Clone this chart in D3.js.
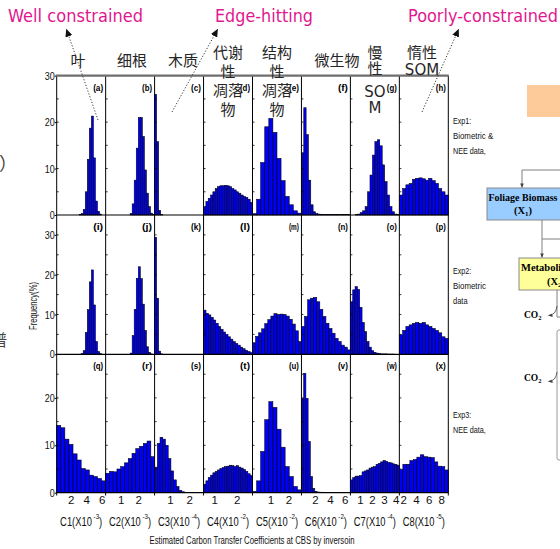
<!DOCTYPE html>
<html>
<head>
<meta charset="utf-8">
<script src="https://cdn.jsdelivr.net/npm/d3@7"></script>
<style>
  body { margin: 0; background: #fff; }
  svg { display: block; }
  text { font-family: "Liberation Sans", Arial, sans-serif; }
</style>
</head>
<body>
<svg id="chart" width="560" height="549"></svg>
<script>
// ---------- data ----------
const paramNames = ["C1", "C2", "C3", "C4", "C5", "C6", "C7", "C8"];
const paramExps = ["-3", "-3", "-4", "-2", "-2", "-2", "-4", "-5"];
const poolNames = [["叶"], ["细根"], ["木质"], ["代谢", "性", "凋落", "物"],
                   ["结构", "性", "凋落", "物"], ["微生物"], ["慢", "性", "SO", "M"], ["惰性", "SOM"]];
const xDomains = [[0.2, 6.5], [0.14, 2.93], [0.2, 2.74], [0.52, 2.71],
                  [0, 2.72], [0.2, 6.75], [0.2, 4.3], [1.4, 9.1]];
const xTickValues = [[2, 4, 6], [1, 2], [1, 2], [1, 2], [1, 2], [2, 4, 6], [1, 2, 3, 4], [2, 4, 6, 8]];
const yMax = [30, 35, 29.2];
const yTickValues = [[0, 10, 20, 30], [0, 10, 20, 30], [0, 10, 20]];
const expLabels = [["Exp1:", "Biometric &", "NEE data,"], ["Exp2:", "Biometric", "data"], ["Exp3:", "NEE data,"]];
const panelLetters = "abcdefghijklmnopqrstuvwx".split("");
const zoneLabels = ["Well constrained", "Edge-hitting", "Poorly-constrained"];
const yTitle = "Frequency(%)";
const xTitle = "Estimated Carbon Transfer Coefficients at CBS by inversoin";

// Exp1: biometric & NEE data
const freqA = [0,0,0,0,0,0,0,0,0,0,0,0.1,0.3,1.2,5.0,12.0,18.7,21.3,12.3,3.0,0.8,0.2,0,0];
const freqB = [0,0,0,0,0,0,0,0,0,0,0,0,0.3,2.4,7.5,14.4,21.0,21.0,16.9,9.7,4.7,1.8,0.4,0.1];
const freqC = [26.0,15.8,1.0,0.1,0,0,0,0,0,0,0,0,0,0,0,0,0,0,0,0,0,0,0,0];
const freqD = [1.8,2.9,3.6,4.3,5.0,5.7,6.1,6.3,6.3,6.4,6.3,6.1,5.7,5.4,5.0,4.7,4.3,4.0,3.8,3.4,2.7];
const freqE = [0.3,3.4,11.3,19.0,20.8,17.8,12.2,7.4,4.0,2.2,0.9,0.4];
const freqF = [13.4,23.1,17.3,7.5,2.2,0.7,0.3,0.2,0.1,0.1,0.1,0.1,0.1,0.1,0.1,0.1,0.1,0.1,0.1,0.1,0.1];
const freqG = [0,0,0.1,0.2,0.5,0.9,1.8,5.0,8.6,12.9,15.8,16.2,14.9,10.8,7.2,4.3,1.8,0.7,0.2,0.1];
const freqH = [4.3,5.7,6.5,6.8,7.7,7.9,8.0,7.8,7.5,7.9,7.4,6.8,5.7,5.0,4.3];
// Exp2: biometric data
const freqI = [0,0,0,0,0,0,0,0,0,0,0,0,0.2,0.9,5.5,11.2,18.2,21.2,12.4,3.2,0.7,0.2,0,0];
const freqJ = [0,0,0,0,0,0,0,0,0,0,0,0,0.3,4.7,11.3,19.1,22.0,19.0,12.6,6.0,1.9,0.5,0.1,0];
const freqK = [29.4,14.1,0.8,0.1,0,0,0,0,0,0,0,0,0,0,0,0,0,0,0,0,0,0,0,0];
const freqL = [11.1,10.3,9.9,9.3,8.6,7.8,7.0,6.3,5.6,5.0,4.4,3.8,3.2,2.7,2.3,1.8,1.4,1.0,0.7,0.4];
const freqM = [2.9,4.5,5.4,6.4,7.7,8.7,9.6,10.2,10.0,10.1,10.0,9.6,8.8,7.6,5.9,3.2];
const freqN = [7.0,9.5,13.7,14.1,14.3,13.2,11.3,9.5,7.8,6.5,5.3,4.0,3.2,2.3,1.8,1.1];
const freqO = [13.2,16.2,17.0,16.3,11.8,8.0,5.7,3.2,1.8,0.9,0.5,0.3,0.2,0.1,0.1,0.1,0.05,0.05,0.05,0,0];
const freqP = [4.9,6.0,7.0,7.4,7.8,8.0,7.8,8.0,7.4,7.0,6.5,6.0,5.4,4.4,4.0];
// Exp3: NEE data
const freqQ = [14.2,13.7,11.3,10.2,8.2,6.9,5.1,4.8,3.7,3.4,3.0,2.5];
const freqR = [4.1,4.5,4.4,5.0,5.5,6.3,7.2,8.3,9.3,9.8,10.4,10.9,7.6];
const freqS = [5.4,10.4,11.7,11.3,10.0,7.2,4.6,2.7,1.3,0.5,0.2,0.1,0.05,0,0,0,0,0];
const freqT = [1.8,2.5,3.2,3.7,4.2,4.5,4.8,5.1,5.3,5.5,5.6,5.8,5.7,5.5,5.7,5.4,5.2,4.9,4.5,4.0,3.6];
const freqU = [0.3,2.5,8.7,15.4,19.2,18.0,13.4,9.6,5.5,3.4,1.3,0.6];
const freqV = [19.9,25.2,19.9,10.8,3.4,0.9,0.3,0.15,0.1,0.1,0.05,0.05,0.05,0,0,0,0,0,0,0,0,0];
const freqW = [2.7,3.2,3.5,3.5,3.6,4.4,4.6,4.8,5.2,5.4,5.5,6.0,6.2,6.5,6.8,6.6,6.4,6.3,6.1,6.0,5.8];
const freqX = [4.9,6.0,6.0,6.8,7.0,7.5,8.0,7.6,7.5,7.4,6.5,5.6,5.5,4.8];

const rowsData = [
  [freqA, freqB, freqC, freqD, freqE, freqF, freqG, freqH],
  [freqI, freqJ, freqK, freqL, freqM, freqN, freqO, freqP],
  [freqQ, freqR, freqS, freqT, freqU, freqV, freqW, freqX]
];

// ---------- layout ----------
const svg = d3.select("#chart");
const plotL = 56.7, plotR = 448.3;
const colW = (plotR - plotL) / 8;
const rowTop = [75.7, 215, 354.3];
const rowBot = [215, 354.3, 492.7];
const lineBottom = 495.5;
const magenta = "#E2168E";
const barFill = "#0000F5";

const defs = svg.append("defs");
defs.append("marker").attr("id", "headBlack")
  .attr("viewBox", "0 0 10 10").attr("refX", 9).attr("refY", 5)
  .attr("markerWidth", 8).attr("markerHeight", 8).attr("markerUnits", "userSpaceOnUse")
  .attr("orient", "auto")
  .append("path").attr("d", "M0,0.5 L10,5 L0,9.5 Z").attr("fill", "#111");
defs.append("marker").attr("id", "headGray")
  .attr("viewBox", "0 0 10 10").attr("refX", 9).attr("refY", 5)
  .attr("markerWidth", 4.5).attr("markerHeight", 4.5).attr("markerUnits", "userSpaceOnUse")
  .attr("orient", "auto")
  .append("path").attr("d", "M0,1 L10,5 L0,9 Z").attr("fill", "#444");

// ---------- histograms ----------
rowsData.forEach((row, r) => {
  const y = d3.scaleLinear().domain([0, yMax[r]]).range([rowBot[r], rowTop[r]]);

  row.forEach((freq, c) => {
    const x0 = plotL + c * colW, x1 = x0 + colW;
    const x = d3.scaleLinear().domain(xDomains[c]).range([x0, x1]);
    const [d0, d1] = xDomains[c];
    const step = (d1 - d0) / freq.length;
    const bins = freq.map((v, i) => ({ v, a: d0 + i * step, b: d0 + (i + 1) * step }))
                     .filter(d => d.v > 0);

    const g = svg.append("g").attr("class", "panel");
    g.selectAll("rect").data(bins).join("rect")
      .attr("x", d => x(d.a))
      .attr("width", d => x(d.b) - x(d.a))
      .attr("y", d => y(d.v))
      .attr("height", d => y(0) - y(d.v))
      .attr("fill", barFill)
      .attr("stroke", "#000")
      .attr("stroke-width", 0.55);

    // small inward ticks on each panel's left edge
    g.selectAll("line.minor").data(d3.range(5, yMax[r], 5)).join("line")
      .attr("class", "minor")
      .attr("x1", x0).attr("x2", x0 + 2)
      .attr("y1", d => y(d)).attr("y2", d => y(d))
      .attr("stroke", "#000").attr("stroke-width", 0.8);

    // panel letter
    g.append("text")
      .attr("x", x1 - 2.5).attr("y", rowTop[r] + 15)
      .attr("text-anchor", "end")
      .attr("font-size", 9).attr("font-weight", "bold")
      .attr("textLength", 10).attr("lengthAdjust", "spacingAndGlyphs")
      .text("(" + panelLetters[r * 8 + c] + ")");

    // bottom row: coefficient axis
    if (r === 2) {
      const ax = svg.append("g")
        .attr("transform", `translate(0,${rowBot[r]})`)
        .call(d3.axisBottom(x).tickValues(xTickValues[c]).tickSize(0).tickPadding(3.6).tickFormat(d3.format("d")));
      ax.select(".domain").remove();
      ax.selectAll("text").attr("font-size", 11.5).attr("fill", "#111")
        .attr("font-family", "Liberation Sans, Arial, sans-serif");

      const t = svg.append("text")
        .attr("transform", `translate(${(x0 + x1) / 2},525.5) scale(0.78,1)`)
        .attr("text-anchor", "middle").attr("font-size", 12).attr("fill", "#111");
      t.append("tspan").text(paramNames[c] + "(X10");
      t.append("tspan").attr("dy", -7).attr("font-size", 8).text(" " + paramExps[c]);
      t.append("tspan").attr("dy", 7).text(")");
    }
  });

  // row baseline
  svg.append("line")
    .attr("x1", plotL).attr("x2", plotR)
    .attr("y1", rowBot[r]).attr("y2", rowBot[r])
    .attr("stroke", "#000").attr("stroke-width", 1.2);

  // frequency axis
  const ay = svg.append("g")
    .attr("transform", `translate(${plotL},0)`)
    .call(d3.axisLeft(y).tickValues(yTickValues[r]).tickSize(2).tickPadding(0));
  ay.select(".domain").remove();
  ay.selectAll("line").attr("stroke", "#000");
  ay.selectAll("text")
    .attr("font-size", 11.5).attr("fill", "#111")
    .attr("textLength", d => String(d).length * 5)
    .attr("lengthAdjust", "spacingAndGlyphs");

  // experiment label
  svg.append("g").selectAll("text").data(expLabels[r]).join("text")
    .attr("x", 453)
    .attr("y", (d, i) => [124, 274, 418][r] + i * 14.8)
    .attr("font-size", 9.5).attr("fill", "#111")
    .attr("textLength", d => d.length * 3.65)
    .attr("lengthAdjust", "spacingAndGlyphs")
    .text(d => d);
});

// frame: column dividers and top edge
svg.append("g").selectAll("line").data(d3.range(9)).join("line")
  .attr("x1", i => plotL + i * colW).attr("x2", i => plotL + i * colW)
  .attr("y1", rowTop[0]).attr("y2", lineBottom)
  .attr("stroke", "#000").attr("stroke-width", 1);
svg.append("line")
  .attr("x1", plotL - 1).attr("x2", plotR + 0.5)
  .attr("y1", rowTop[0]).attr("y2", rowTop[0])
  .attr("stroke", "#6e6e6e").attr("stroke-width", 2.2);

// pool names above the columns
const headerX = [78, 132, 183, 228, 277, 337, 375, 422];
const headerBase = [[66], [66], [66], [58, 77, 96, 115], [58, 77, 96, 115], [66], [58, 74, 97, 113], [58, 75]];
poolNames.forEach((lines, c) => {
  svg.append("g").selectAll("text").data(lines).join("text")
    .attr("x", headerX[c])
    .attr("y", (d, i) => headerBase[c][i])
    .attr("text-anchor", "middle")
    .attr("font-size", 15)
    .attr("fill", "#262626")
    .style("font-family", "'DejaVu Sans', 'Noto Sans CJK SC', sans-serif")
    .text(d => d);
});

// axis titles
svg.append("text")
  .attr("transform", "translate(36.5,306) rotate(-90)")
  .attr("text-anchor", "middle").attr("font-size", 10.5).attr("fill", "#111")
  .attr("textLength", 48).attr("lengthAdjust", "spacingAndGlyphs")
  .text(yTitle);
svg.append("text")
  .attr("x", 252).attr("y", 544)
  .attr("text-anchor", "middle").attr("font-size", 10).attr("fill", "#111")
  .attr("textLength", 205).attr("lengthAdjust", "spacingAndGlyphs")
  .text(xTitle);

// constraint annotations with dotted pointers
const zoneX = [8, 215, 408];
const zoneLen = [135, 98, 150];
zoneLabels.forEach((s, i) => {
  svg.append("text")
    .attr("x", zoneX[i]).attr("y", 22)
    .attr("font-size", 18.5).attr("fill", magenta)
    .style("font-family", "'DejaVu Sans', Verdana, sans-serif")
    .attr("textLength", zoneLen[i]).attr("lengthAdjust", "spacingAndGlyphs")
    .text(s);
});
const pointers = [[98, 120, 66.5, 29.5], [172, 112, 217.5, 29.5], [422, 112, 458.5, 29.5]];
svg.append("g").selectAll("line").data(pointers).join("line")
  .attr("x1", d => d[0]).attr("y1", d => d[1])
  .attr("x2", d => d[2]).attr("y2", d => d[3])
  .attr("stroke", "#222").attr("stroke-width", 0.9)
  .attr("stroke-dasharray", "1.2,1.8")
  .attr("marker-end", "url(#headBlack)");

// cropped glyphs at the left margin
svg.append("text").attr("x", -1).attr("y", 170).attr("font-size", 18).attr("fill", "#444")
  .style("font-family", "'Noto Sans CJK SC'").text("）");
svg.append("text").attr("x", -9).attr("y", 346).attr("font-size", 16).attr("fill", "#444")
  .style("font-family", "'Noto Sans CJK SC'").text("谱");

// ---------- carbon pool diagram (right margin) ----------
const diag = svg.append("g");
const gray = "#808080";
diag.append("rect").attr("x", 527).attr("y", 85).attr("width", 40).attr("height", 32)
  .attr("fill", "#FDCB9A");
// foliage box and inflow
diag.append("path").attr("d", "M562,170 H522 V187.5").attr("fill", "none")
  .attr("stroke", gray).attr("stroke-width", 1).attr("marker-end", "url(#headGray)");
diag.append("rect").attr("x", 487).attr("y", 188).attr("width", 80).attr("height", 32)
  .attr("fill", "#99CCFF").attr("stroke", "#8a8a8a").attr("stroke-width", 1);
diag.append("text").attr("x", 523).attr("y", 201).attr("text-anchor", "middle")
  .attr("font-size", 10.5).attr("font-weight", "bold")
  .attr("textLength", 69).attr("lengthAdjust", "spacingAndGlyphs")
  .style("font-family", "'Liberation Serif', 'DejaVu Serif', serif")
  .text("Foliage Biomass");
const x1t = diag.append("text").attr("x", 523).attr("y", 214).attr("text-anchor", "middle")
  .attr("font-size", 10.5).attr("font-weight", "bold")
  .style("font-family", "'Liberation Serif', 'DejaVu Serif', serif");
x1t.append("tspan").text("(X");
x1t.append("tspan").attr("font-size", 7).attr("dy", 2).text("1");
x1t.append("tspan").attr("dy", -2).text(")");
// flows out of foliage
diag.append("path").attr("d", "M542,220 V257.5").attr("fill", "none")
  .attr("stroke", gray).attr("stroke-width", 1).attr("marker-end", "url(#headGray)");
diag.append("path").attr("d", "M542,239 H562").attr("fill", "none")
  .attr("stroke", gray).attr("stroke-width", 1);
// metabolic litter box
diag.append("rect").attr("x", 519).attr("y", 258).attr("width", 60).attr("height", 32)
  .attr("fill", "#FFFF99").attr("stroke", "#8a8a8a").attr("stroke-width", 1);
diag.append("text").attr("x", 521).attr("y", 271)
  .attr("font-size", 10.5).attr("font-weight", "bold")
  .style("font-family", "'Liberation Serif', 'DejaVu Serif', serif")
  .text("Metabolic");
const x2t = diag.append("text").attr("x", 547).attr("y", 285)
  .attr("font-size", 10.5).attr("font-weight", "bold")
  .style("font-family", "'Liberation Serif', 'DejaVu Serif', serif");
x2t.append("tspan").text("(X");
x2t.append("tspan").attr("font-size", 7).attr("dy", 2).text("2");
x2t.append("tspan").attr("dy", -2).text(")");
diag.append("path").attr("d", "M557,290 V317 H562").attr("fill", "none")
  .attr("stroke", gray).attr("stroke-width", 1);
// lower pool outline
diag.append("rect").attr("x", 557).attr("y", 330).attr("width", 20).attr("height", 130)
  .attr("rx", 2).attr("fill", "none").attr("stroke", "#9a9a9a").attr("stroke-width", 1);
// respiration arrows
[[318, "M557,306 Q556,315 548.5,315.5"], [381, "M557,372 Q556,381 548.5,381.5"]].forEach(([yb, p]) => {
  diag.append("path").attr("d", p).attr("fill", "none")
    .attr("stroke", "#555").attr("stroke-width", 0.9).attr("marker-end", "url(#headGray)");
  const t = diag.append("text").attr("x", 524).attr("y", yb)
    .attr("font-size", 9.5).attr("font-weight", "bold")
    .style("font-family", "'Liberation Serif', 'DejaVu Serif', serif");
  t.append("tspan").text("CO");
  t.append("tspan").attr("font-size", 6.5).attr("dy", 2).text("2");
});
</script>
</body>
</html>
